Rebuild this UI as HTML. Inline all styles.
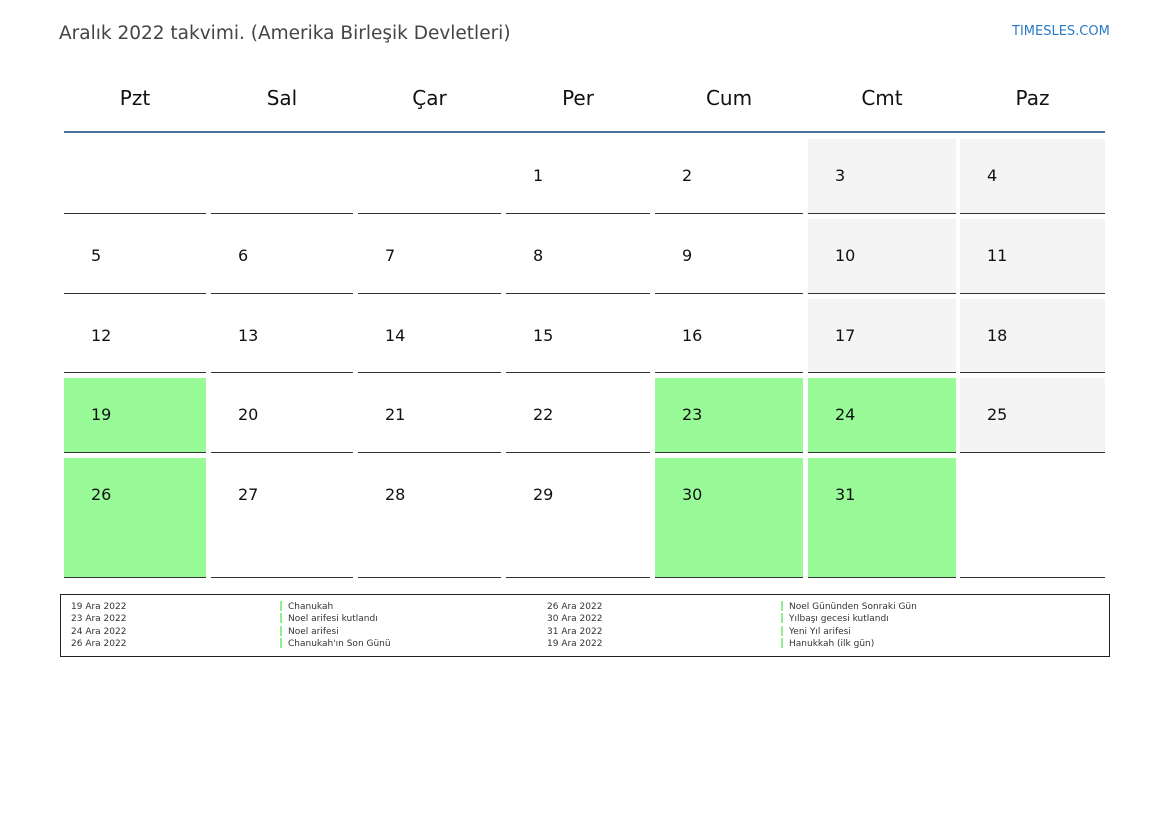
<!DOCTYPE html>
<html><head><meta charset="utf-8"><style>
body{margin:0;width:1169px;height:827px;background:#fff;font-family:"DejaVu Sans","Liberation Sans",sans-serif;position:relative;overflow:hidden}
.a{position:absolute}
.h{position:absolute;top:86px;font-size:20px;color:#111;text-align:center;line-height:24px}
.c{position:absolute;border-bottom:1px solid #333;box-sizing:border-box}
.c span{position:absolute;left:27px;top:27px;font-size:16px;line-height:20px;color:#111}
.l{position:absolute;font-size:9px;line-height:12.3px;color:#333}
.b{position:absolute;width:2px;height:10px;background:#90ee90}
</style></head><body>
<div class="a" style="left:59px;top:21px;font-size:18.5px;color:#444;line-height:26px">Aralık 2022 takvimi. (Amerika Birleşik Devletleri)</div>
<div class="a" style="left:1012px;top:24px;font-size:13px;color:#2a7ac8;line-height:16px">TIMESLES.COM</div>
<div class="h" style="left:64px;width:142px">Pzt</div>
<div class="h" style="left:211px;width:142px">Sal</div>
<div class="h" style="left:358px;width:143px">Çar</div>
<div class="h" style="left:506px;width:144px">Per</div>
<div class="h" style="left:655px;width:148px">Cum</div>
<div class="h" style="left:808px;width:148px">Cmt</div>
<div class="h" style="left:960px;width:145px">Paz</div>
<div class="a" style="left:64px;top:131px;width:1041px;height:2px;background:#4d6f9c"></div>
<div id="g"></div>
<div class="a" style="left:60px;top:594px;width:1048px;height:61px;border:1px solid #222"></div>
<div class="l" style="left:71px;top:601px">19 Ara 2022<br>23 Ara 2022<br>24 Ara 2022<br>26 Ara 2022</div>
<div class="l" style="left:288px;top:601px">Chanukah<br>Noel arifesi kutlandı<br>Noel arifesi<br>Chanukah'ın Son Günü</div>
<div class="l" style="left:547px;top:601px">26 Ara 2022<br>30 Ara 2022<br>31 Ara 2022<br>19 Ara 2022</div>
<div class="l" style="left:789px;top:601px">Noel Gününden Sonraki Gün<br>Yılbaşı gecesi kutlandı<br>Yeni Yıl arifesi<br>Hanukkah (ilk gün)</div>
<div class="b" style="left:280px;top:601px"></div><div class="b" style="left:280px;top:613px"></div><div class="b" style="left:280px;top:626px"></div><div class="b" style="left:280px;top:638px"></div>
<div class="b" style="left:781px;top:601px"></div><div class="b" style="left:781px;top:613px"></div><div class="b" style="left:781px;top:626px"></div><div class="b" style="left:781px;top:638px"></div>
<script>
var cx=[[64,142],[211,142],[358,143],[506,144],[655,148],[808,148],[960,145]];
var ry=[[139,75],[219,75],[299,74],[378,75],[458,120]];
var green=[19,23,24,26,30,31];
var h='';
for(var r=0;r<5;r++)for(var c=0;c<7;c++){
 var d=r*7+c-2;
 var bg='#fff';
 if(d>=1&&d<=31){ if(green.indexOf(d)>=0)bg='#98fb98'; else if(c>=5)bg='#f4f4f4';}
 h+='<div class="c" style="left:'+cx[c][0]+'px;top:'+ry[r][0]+'px;width:'+cx[c][1]+'px;height:'+ry[r][1]+'px;background:'+bg+'">'+((d>=1&&d<=31)?'<span>'+d+'</span>':'')+'</div>';
}
document.getElementById('g').innerHTML=h;
</script>
</body></html>
